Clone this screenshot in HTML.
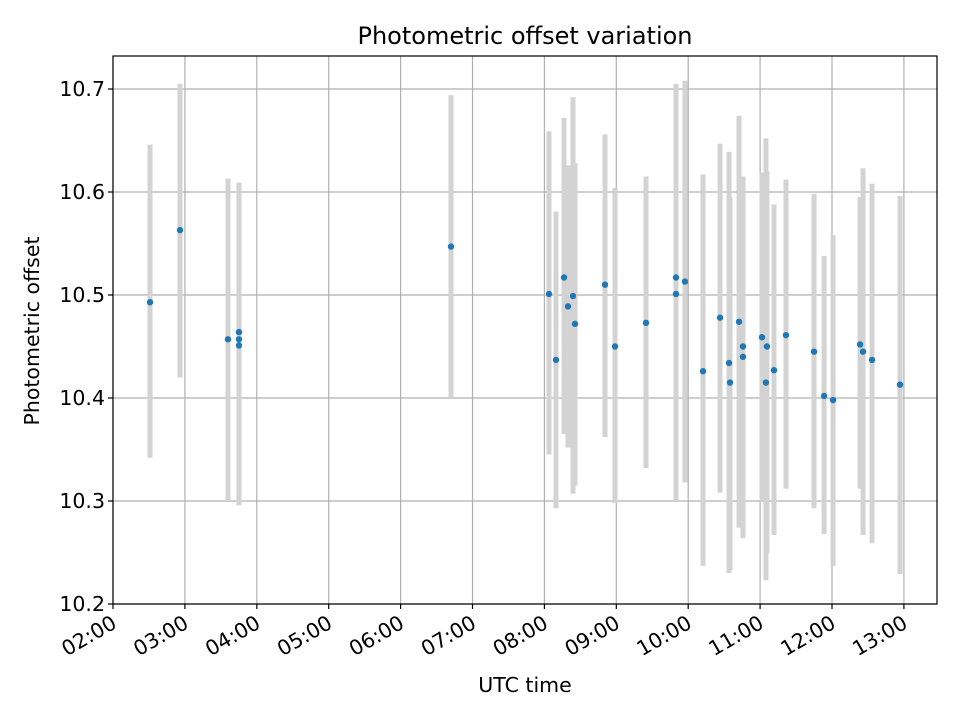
<!DOCTYPE html>
<html><head><meta charset="utf-8"><style>
body{margin:0;background:#fff}
svg{display:block;font-family:"DejaVu Sans","Liberation Sans",sans-serif}
</style></head><body>
<svg id="chart" width="960" height="720" viewBox="0 0 960 720" xmlns="http://www.w3.org/2000/svg">
<rect width="960" height="720" fill="#fff"/>
<g id="grid"></g>
<g id="bars"></g>
<g id="dots"></g>
<rect x="113" y="56" width="824" height="548" fill="none" stroke="#000" stroke-width="1.2"/>
<g id="axes"></g>
<text x="525" y="44" font-size="24" text-anchor="middle">Photometric offset variation</text>
<text x="525" y="692" font-size="20.5" text-anchor="middle">UTC time</text>
<text transform="translate(39,331) rotate(-90)" font-size="20.5" text-anchor="middle">Photometric offset</text>
</svg>
<script>
const times=[2.515,2.932,3.599,3.752,3.752,3.752,6.701,8.064,8.161,8.273,8.328,8.398,8.426,8.843,8.982,9.413,9.830,9.830,9.955,10.206,10.443,10.568,10.582,10.707,10.762,10.762,11.026,11.081,11.095,11.193,11.360,11.750,11.890,12.015,12.390,12.432,12.557,12.946];
const values=[10.493,10.563,10.457,10.464,10.457,10.451,10.547,10.501,10.437,10.517,10.489,10.499,10.472,10.510,10.450,10.473,10.517,10.501,10.513,10.426,10.478,10.434,10.415,10.474,10.450,10.440,10.459,10.415,10.450,10.427,10.461,10.445,10.402,10.398,10.452,10.445,10.437,10.413];
const upper=[10.646,10.705,10.613,10.609,10.609,10.609,10.694,10.659,10.581,10.672,10.626,10.692,10.628,10.656,10.604,10.615,10.705,10.705,10.708,10.617,10.647,10.639,10.595,10.674,10.615,10.615,10.619,10.652,10.620,10.588,10.612,10.598,10.538,10.558,10.595,10.623,10.608,10.596];
const lower=[10.342,10.420,10.300,10.296,10.296,10.296,10.401,10.345,10.293,10.365,10.352,10.307,10.315,10.362,10.298,10.332,10.301,10.301,10.318,10.237,10.308,10.230,10.233,10.274,10.264,10.264,10.299,10.223,10.249,10.267,10.312,10.293,10.268,10.237,10.312,10.267,10.259,10.229];
const yTicks=[10.2,10.3,10.4,10.5,10.6,10.7];
const xTicks=[2,3,4,5,6,7,8,9,10,11,12,13];
const xTickLabels=["02:00","03:00","04:00","05:00","06:00","07:00","08:00","09:00","10:00","11:00","12:00","13:00"];
const NS="http://www.w3.org/2000/svg";
const X=h=>113+(h-2)*71.9;
const Y=v=>604-(v-10.2)*1030;
function mk(tag,attrs,parent){const e=document.createElementNS(NS,tag);for(const k in attrs)e.setAttribute(k,attrs[k]);document.getElementById(parent).appendChild(e);return e;}
xTicks.forEach((t,i)=>{
  const x=X(t);
  const g=mk('line',{x1:x,x2:x,y1:56,y2:604,stroke:'#b0b0b0','stroke-width':1.2},'grid');
  
  
  const tk=mk('line',{x1:x,x2:x,y1:604,y2:609,stroke:'#000','stroke-width':1.2},'axes');
  
  
  const tx=mk('text',{'font-size':20.5,'text-anchor':'end',transform:`translate(${x+5},${627}) rotate(-30)`},'axes');
  tx.textContent=xTickLabels[i];
  
  
});
yTicks.forEach(t=>{
  const y=Y(t);
  const g=mk('line',{x1:113,x2:937,y1:y,y2:y,stroke:'#b0b0b0','stroke-width':1.2},'grid');
  
  
  const tk=mk('line',{x1:108,x2:113,y1:y,y2:y,stroke:'#000','stroke-width':1.2},'axes');
  
  
  const tx=mk('text',{x:105,y:y+7,'font-size':20.5,'text-anchor':'end'},'axes');
  tx.textContent=t.toFixed(1);
  
  
});
times.forEach((t,i)=>{
  const b=mk('line',{x1:X(t),x2:X(t),y1:Y(upper[i]),y2:Y(lower[i]),stroke:'#d3d3d3','stroke-width':5},'bars');
  
  
});
times.forEach((t,i)=>{
  const c=mk('circle',{cx:X(t),cy:Y(values[i]),r:3.2,fill:'#1f77b4'},'dots');
  
  
});
</script>
</body></html>
